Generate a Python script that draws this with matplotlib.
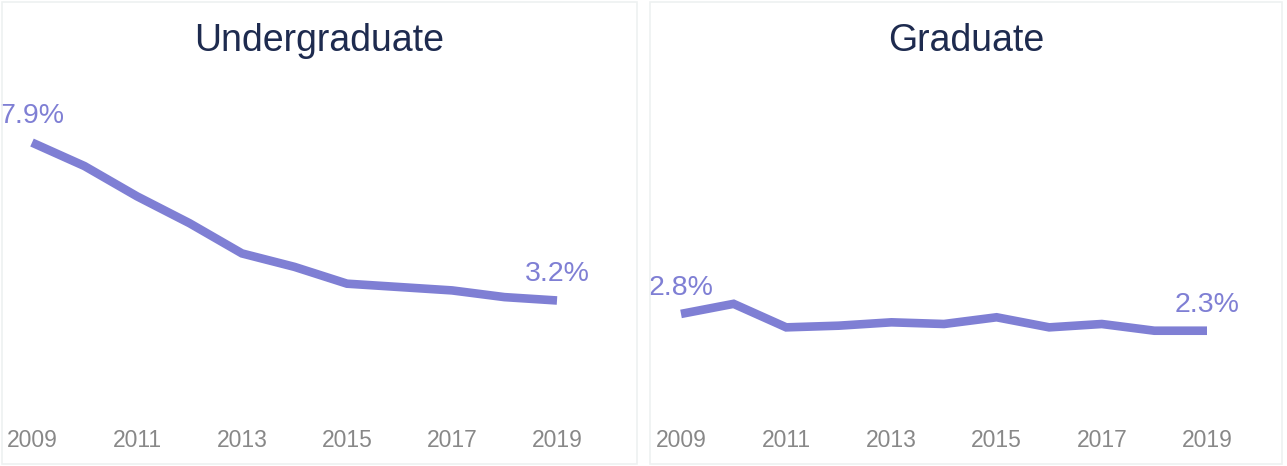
import matplotlib
matplotlib.use("Agg")
import matplotlib.pyplot as plt
from matplotlib.patches import Rectangle

years = [2009, 2010, 2011, 2012, 2013, 2014, 2015, 2016, 2017, 2018, 2019]
undergrad = [7.9, 7.2, 6.3, 5.5, 4.6, 4.2, 3.7, 3.6, 3.5, 3.3, 3.2]
graduate = [2.8, 3.1, 2.4, 2.45, 2.55, 2.5, 2.7, 2.4, 2.5, 2.3, 2.3]
titles = ["Undergraduate", "Graduate"]
tick_years = [2009, 2011, 2013, 2015, 2017, 2019]

W, H = 1287, 466
plt.rcParams['font.family'] = ['Liberation Sans', 'DejaVu Sans']
fig = plt.figure(figsize=(W / 100, H / 100), dpi=100)
fig.patch.set_facecolor('white')

line_color = '#7f7fd4'
title_color = '#1e2b4f'
tick_color = '#888888'
border_color = '#eef1f1'

panels = [(2, 637, 32, 557), (650, 1282, 681, 1207)]
series = [undergrad, graduate]

for (px0, px1, ax0, ax1), vals, title in zip(panels, series, titles):
    fig.add_artist(Rectangle((px0 / W, (H - 464) / H), (px1 - px0) / W, (464 - 2) / H,
                             transform=fig.transFigure, facecolor='none',
                             edgecolor=border_color, linewidth=1.2))
    ytop = 8.0
    zero_px = 408
    px_per = 33.6
    ax = fig.add_axes([ax0 / W, (H - zero_px) / H, (ax1 - ax0) / W, ytop * px_per / H])
    ax.set_xlim(2009, 2019)
    ax.set_ylim(0, ytop)
    ax.patch.set_alpha(0)
    for s in ax.spines.values():
        s.set_visible(False)
    ax.set_yticks([])
    ax.set_xticks(tick_years)
    ax.set_xticklabels([str(y) for y in tick_years])
    ax.tick_params(axis='x', length=0, pad=15, labelsize=16.5, labelcolor=tick_color)
    ax.plot(years, vals, color=line_color, linewidth=6.2, solid_joinstyle='miter',
            solid_capstyle='butt', clip_on=False)
    for i in (0, -1):
        ax.annotate(f"{vals[i]:.1f}%", (years[i], vals[i]), xytext=(0, 9.5),
                    textcoords='offset points', ha='center', va='bottom',
                    fontsize=20.5, color=line_color, annotation_clip=False)
    fig.text((px0 + px1) / 2 / W, 1 - 41 / H, title, ha='center', va='center',
             fontsize=27, color=title_color)

fig.savefig('out.png', dpi=100, facecolor='white')
